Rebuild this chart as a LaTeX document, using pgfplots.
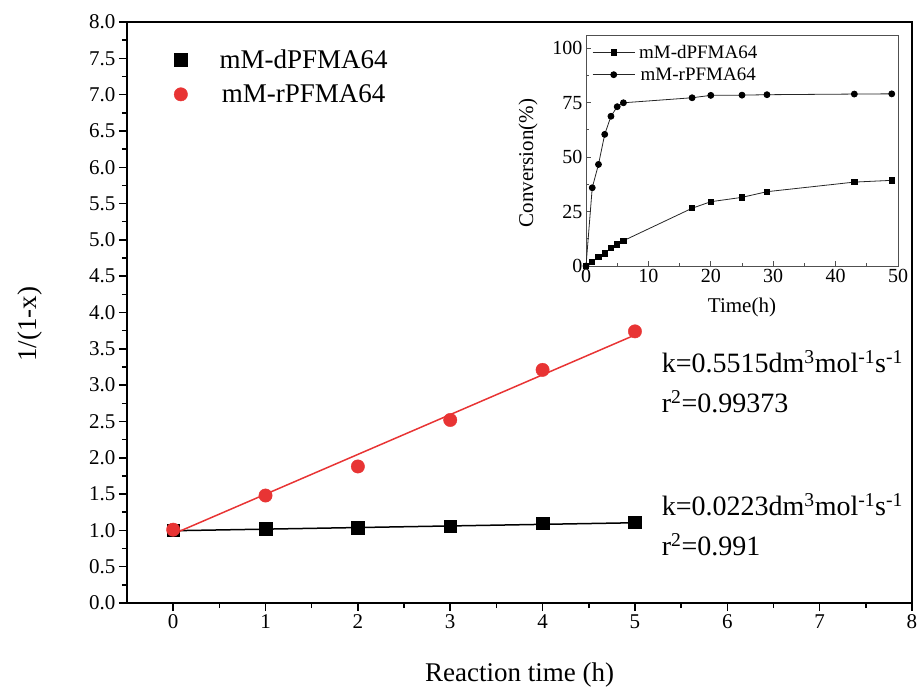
\documentclass[border=0pt]{standalone}
\usepackage{pgfplots}
\usepackage{pgfplotstable}
\pgfplotsset{compat=1.18}
\usepackage{fontspec}
\setmainfont{Liberation Serif}
\definecolor{myred}{RGB}{232,52,52}
\definecolor{insetgray}{RGB}{80,80,80}
\newcommand{\fs}[1]{\fontsize{#1}{#1}\selectfont}

% main plot: 1/(1-x) vs reaction time
\pgfplotstableread{
x y
0 1.00
1 1.02
2 1.04
3 1.06
4 1.10
5 1.11
}\dmain
\pgfplotstableread{
x y
0 1.01
1 1.48
2 1.88
3 2.52
4 3.21
5 3.74
}\rmain
% inset: conversion vs time
\pgfplotstableread{
x y
0 0
1 2.0
2 4.0
3 5.8
4 8.4
5 9.9
6 11.6
17 26.5
20 29.5
25 31.5
29 34.1
43 38.5
49 39.3
}\dinset
\pgfplotstableread{
x y
0 0
1 35.9
2 46.6
3 60.4
4 68.7
5 73.1
6 74.9
17 77.2
20 78.3
25 78.4
29 78.6
43 78.9
49 79.0
}\rinset

\begin{document}
\begin{tikzpicture}
\path[use as bounding box] (-127pt,-88pt) rectangle (792pt,603pt);
\begin{axis}[
  scale only axis, width=785pt, height=581pt,
  xmin=-0.5, xmax=8, ymin=0, ymax=8,
  xtick={0,...,8}, ytick={0,0.5,...,8},
  minor x tick num=1, minor y tick num=1,
  tick align=outside, xtick pos=bottom, ytick pos=left,
  major tick length=8pt, minor tick length=5pt,
  axis line style={line width=1.5pt},
  every tick/.style={line width=1.5pt, black},
  /pgf/number format/assume math mode=true,
  yticklabel style={/pgf/number format/.cd, fixed, fixed zerofill, precision=1},
  tick label style={font=\fs{21}},
  xlabel={Reaction time (h)}, ylabel={1/(1-x)},
  label style={font=\fs{27}},
  xlabel style={at={(axis description cs:0.5,-0.124)}, anchor=center},
  ylabel style={at={(axis description cs:-0.124,0.48)}, anchor=center},
  legend style={at={(axis description cs:0.056,0.96)}, anchor=north west,
    draw=none, fill=none, font=\fs{27}, row sep=11pt, column sep=30pt},
]
\addplot[only marks, mark=square*, mark size=6.3pt, black] table {\dmain};
\addlegendentry{mM-dPFMA64}
\addplot[only marks, mark=*, mark size=6.7pt, myred] table {\rmain};
\addlegendentry{mM-rPFMA64}
\addplot[black, line width=1.5pt, forget plot] coordinates {(0,0.995) (5,1.105)};
\addplot[myred, line width=1.5pt, forget plot] coordinates {(0,0.95) (5,3.69)};
\node[anchor=base west, inner sep=0pt, font=\fs{28}] at (axis cs:5.29,3.18)
  {k=0.5515dm\textsuperscript{3}mol\textsuperscript{-1}s\textsuperscript{-1}};
\node[anchor=base west, inner sep=0pt, font=\fs{28}] at (axis cs:5.29,2.62)
  {r\textsuperscript{2}=0.99373};
\node[anchor=base west, inner sep=0pt, font=\fs{28}] at (axis cs:5.29,1.20)
  {k=0.0223dm\textsuperscript{3}mol\textsuperscript{-1}s\textsuperscript{-1}};
\node[anchor=base west, inner sep=0pt, font=\fs{28}] at (axis cs:5.29,0.66)
  {r\textsuperscript{2}=0.991};
\end{axis}

\begin{axis}[
  at={(459pt,337pt)}, anchor=south west,
  scale only axis, width=312pt, height=231pt,
  xmin=0, xmax=50, ymin=0, ymax=106,
  xtick={0,10,...,50}, ytick={0,25,...,100},
  minor x tick num=1, minor y tick num=1,
  tick align=inside, xtick pos=bottom, ytick pos=left,
  major tick length=5pt, minor tick length=3pt,
  axis line style={insetgray, line width=0.8pt},
  every tick/.style={insetgray, line width=0.8pt},
  /pgf/number format/assume math mode=true,
  tick label style={font=\fs{20}},
  xlabel={Time(h)}, ylabel={Conversion(\%)},
  label style={font=\fs{21}},
  xlabel style={at={(axis description cs:0.5,-0.18)}, anchor=center},
  ylabel style={at={(axis description cs:-0.186,0.446)}, anchor=center},
  legend style={at={(axis description cs:0.01,0.975)}, anchor=north west,
    draw=none, fill=none, font=\fs{19}, row sep=4pt, column sep=2pt},
  legend image code/.code={\draw[mark repeat=2, mark phase=2, #1]
    plot coordinates {(0pt,0pt) (21pt,0pt) (42pt,0pt)};},
]
\addplot[black!85, line width=0.8pt, mark=square*, mark size=2.6pt,
  mark options={black}] table {\dinset};
\addlegendentry{mM-dPFMA64}
\addplot[black!85, line width=0.8pt, mark=*, mark size=3pt,
  mark options={black}] table {\rinset};
\addlegendentry{mM-rPFMA64}
\end{axis}
\end{tikzpicture}
\end{document}
